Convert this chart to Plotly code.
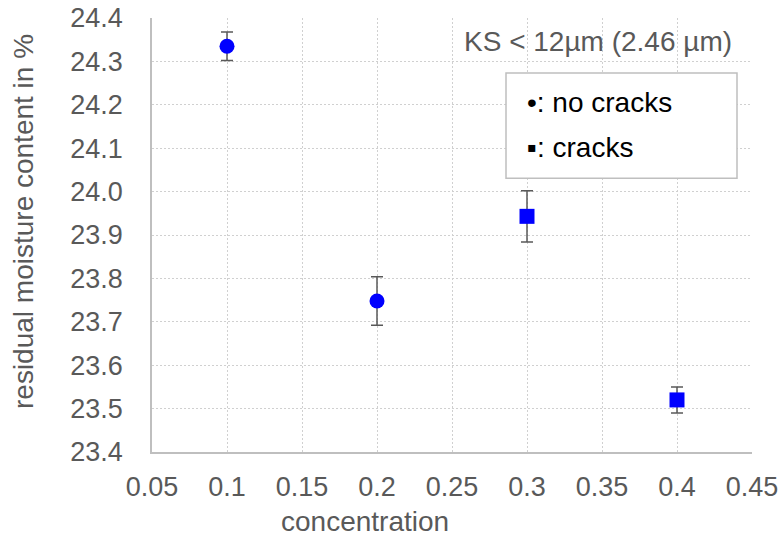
import plotly.graph_objects as go

# Data
conc_nocracks = [0.1, 0.2]
moist_nocracks = [24.335, 23.748]
err_nocracks = [0.033, 0.056]

conc_cracks = [0.3, 0.4]
moist_cracks = [23.943, 23.520]
err_cracks = [0.059, 0.030]

x_ticks = [0.05, 0.1, 0.15, 0.2, 0.25, 0.3, 0.35, 0.4, 0.45]
x_ticktext = ["0.05", "0.1", "0.15", "0.2", "0.25", "0.3", "0.35", "0.4", "0.45"]
y_ticks = [23.4, 23.5, 23.6, 23.7, 23.8, 23.9, 24.0, 24.1, 24.2, 24.3, 24.4]

FONT = "Liberation Sans, Arial, sans-serif"
GRAY = "#595959"
BLUE = "#0000FF"

fig = go.Figure()
fig.add_trace(go.Scatter(
    x=conc_nocracks, y=moist_nocracks, mode="markers",
    marker=dict(symbol="circle", size=15, color=BLUE),
    error_y=dict(type="data", array=err_nocracks, visible=True,
                 color=GRAY, thickness=1.5, width=6),
    showlegend=False))
fig.add_trace(go.Scatter(
    x=conc_cracks, y=moist_cracks, mode="markers",
    marker=dict(symbol="square", size=15, color=BLUE),
    error_y=dict(type="data", array=err_cracks, visible=True,
                 color=GRAY, thickness=1.5, width=6),
    showlegend=False))

fig.update_layout(
    width=780, height=541,
    margin=dict(l=152, r=28, t=18, b=89),
    paper_bgcolor="white", plot_bgcolor="white",
    font=dict(family=FONT, size=27, color=GRAY),
    xaxis=dict(range=[0.05, 0.45], tickvals=x_ticks, ticktext=x_ticktext,
               showgrid=True, gridcolor="#D0D0D0", griddash="2px,2px", gridwidth=1,
               showline=True, linecolor="#BFBFBF", linewidth=1.5,
               ticks="outside", ticklen=10, tickcolor="rgba(0,0,0,0)",
               zeroline=False, automargin=False, tickfont=dict(size=27, color=GRAY)),
    yaxis=dict(range=[23.4, 24.4], tickvals=y_ticks, tickformat=".1f",
               showgrid=True, gridcolor="#D0D0D0", griddash="2px,2px", gridwidth=1,
               showline=True, linecolor="#BFBFBF", linewidth=1.5,
               ticks="outside", ticklen=22, tickcolor="rgba(0,0,0,0)",
               zeroline=False, automargin=False, tickfont=dict(size=27, color=GRAY)),
)

fig.add_shape(type="rect", xref="paper", yref="paper",
              x0=0.59, x1=0.975, y0=0.631, y1=0.873,
              line=dict(color="#BFBFBF", width=1.5), fillcolor="white", layer="above")

fig.add_annotation(xref="paper", yref="paper", x=0.97, y=0.945,
                   xanchor="right", yanchor="middle", showarrow=False,
                   text="KS < 12µm (2.46 µm)", font=dict(size=28, color=GRAY, family=FONT))
fig.add_annotation(xref="paper", yref="paper", x=0.622, y=(452 - 102) / 434,
                   xanchor="left", yanchor="middle", showarrow=False,
                   text="•: no cracks", font=dict(size=28, color="black", family=FONT))
fig.add_annotation(xref="paper", yref="paper", x=0.622, y=(452 - 147) / 434,
                   xanchor="left", yanchor="middle", showarrow=False,
                   text="▪: cracks", font=dict(size=28, color="black", family=FONT))

# axis titles
fig.add_annotation(xref="paper", yref="paper", x=(365 - 152) / 600, y=(452 - 521) / 434,
                   xanchor="center", yanchor="middle", showarrow=False,
                   text="concentration", font=dict(size=28, color=GRAY, family=FONT))
fig.add_annotation(xref="paper", yref="paper", x=(24 - 152) / 600, y=(452 - 222) / 434,
                   xanchor="center", yanchor="middle", showarrow=False, textangle=-90,
                   text="residual moisture content in %", font=dict(size=28, color=GRAY, family=FONT))

fig.write_html("out.html")
